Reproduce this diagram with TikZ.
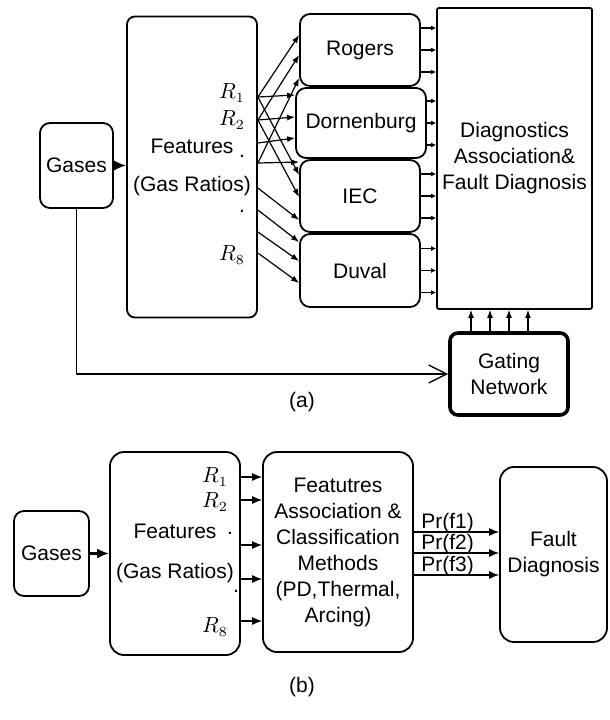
\documentclass[tikz,border=0pt]{standalone}
\usepackage{fontspec}
\setmainfont{Liberation Sans}
\usetikzlibrary{arrows.meta}

\begin{document}
\begin{tikzpicture}[x=0.5pt,y=-0.5pt,line cap=round,line join=round,
  every node/.style={inner sep=1pt,font=\fontsize{10.5}{13}\selectfont},
  box/.style={draw,line width=0.9pt,rounded corners=5pt,align=center},
  arr/.style={line width=0.6pt,-{Latex[length=4pt,width=3pt]}},
  tinyarr/.style={line width=0.6pt,-{Latex[length=2.5pt,width=2.5pt]}},
  bigarr/.style={line width=0.8pt,-{Latex[length=6pt,width=5pt]}}]
  \useasboundingbox (0,0) rectangle (610,720);
  % (a) 输入、特征与四种方法
  \node[box,minimum width=36.5pt,minimum height=42.5pt] (gasA) at (76.5,165.5) {Gases};
  \node[box,rounded corners=4pt,minimum width=65pt,minimum height=150.5pt] (featA) at (192,167) {Features\\[6pt](Gas Ratios)};
  \node (r1a) at (232,93) {$R_1$};
  \node (r2a) at (232,120) {$R_2$};
  \node (d1a) at (242,156) {.};
  \node (d2a) at (242,211) {.};
  \node (r8a) at (232,255) {$R_8$};
  \node[box,minimum width=60pt,minimum height=36pt] (rog) at (360,50) {Rogers};
  \node[box,minimum width=65pt,minimum height=35pt] (dorn) at (361,123) {Dornenburg};
  \node[box,minimum width=60pt,minimum height=36pt] (iec) at (360,196) {IEC};
  \node[box,minimum width=60pt,minimum height=36.5pt] (duv) at (360,270.5) {Duval};
  \node[box,rounded corners=1pt,minimum width=77.5pt,minimum height=150.5pt] (diag) at (514.5,158.5) {Diagnostics\\Association\&\\Fault Diagnosis};
  \node[box,line width=1.8pt,rounded corners=4pt,minimum width=59pt,minimum height=41pt] (gate) at (509,374) {Gating\\Network};
  \node (capa) at (302,402) {(a)};
  % 气体 -> 特征，气体 -> 门控网络
  \draw[bigarr] (gasA) -- (featA.west |- gasA);
  \draw[line width=0.7pt,-{Straight Barb[length=9pt,width=9pt]}] (gasA.south) |- (gate.west);
  % 特征比值交叉连到各方法
  \foreach \i/\y in {1/97,2/120,3/143,4/163,5/188,6/210,7/232,8/253}
    \coordinate (s\i) at (featA.east |- 0,\y);
  \foreach \s/\b/\y in {1/rog/35,1/dorn/95,1/iec/175,2/rog/55,2/dorn/117,2/iec/197,3/dorn/138,
                        4/rog/78,4/iec/162,5/iec/220,6/duv/242,7/duv/261,8/duv/283}
    \draw[arr] (s\s) -- (\b.west |- 0,\y);
  % 各方法 -> 诊断
  \foreach \b in {rog,dorn,iec,duv}
    \foreach \d in {-11,0,11} {
      \coordinate (o) at ([yshift=\d pt]\b.east);
      \draw[tinyarr] (o) -- (o -| diag.west);
    }
  % 门控网络 -> 诊断
  \foreach \dx in {-38,-19,0,19} {
    \coordinate (g) at ([xshift=\dx*0.5pt]gate.north);
    \draw[arr] (g) -- (g |- diag.south);
  }
  % (b) 特征关联分类
  \node[box,minimum width=37.5pt,minimum height=42.5pt] (gasB) at (51.5,553.5) {Gases};
  \node[box,rounded corners=7pt,minimum width=65pt,minimum height=101.5pt] (featB) at (175,553.5) {Features\\[7pt](Gas Ratios)};
  \node (r1b) at (215,477) {$R_1$};
  \node (r2b) at (215,502) {$R_2$};
  \node (d1b) at (230,533) {.};
  \node (d2b) at (236,591) {.};
  \node (r8b) at (215,627) {$R_8$};
  \node[box,rounded corners=7pt,minimum width=75pt,minimum height=100pt] (clsB) at (338,552) {Featutres\\Association \&\\Classification\\Methods\\(PD,Thermal,\\Arcing)};
  \node[box,rounded corners=7pt,minimum width=53.5pt,minimum height=87.5pt] (faultB) at (553.5,554.5) {Fault\\Diagnosis};
  \node (capb) at (302,687) {(b)};
  \draw[bigarr,line width=1.2pt] (gasB) -- (featB);
  \foreach \y in {477,500,545,579,621}
    \draw[arr,-{Latex[length=5pt,width=4pt]}] (featB.east |- 0,\y) -- (clsB.west |- 0,\y);
  \foreach \i/\y in {1/532,2/553,3/575} {
    \draw[arr,-{Latex[length=5pt,width=4pt]}] (clsB.east |- 0,\y) -- (faultB.west |- 0,\y);
    \node[anchor=base west,inner sep=0pt] (pr\i) at (421,\y-4) {Pr(f\i)};
  }
\end{tikzpicture}
\end{document}
